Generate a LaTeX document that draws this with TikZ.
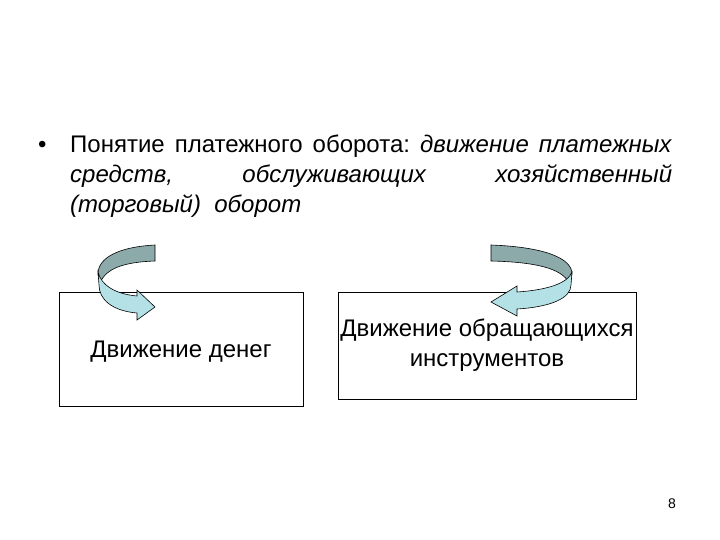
\documentclass[tikz,border=0pt]{standalone}
\usepackage{fontspec}
\setmainfont{Liberation Sans}
\begin{document}
\begin{tikzpicture}[x=1pt,y=-1pt,
  box/.style={draw,line width=0.8pt},
  dk/.style={draw,fill={rgb,255:red,140;green,170;blue,170},line width=0.6pt},
  lt/.style={draw,fill={rgb,255:red,180;green,225;blue,230},line width=0.6pt},
  txt/.style={font=\fontsize{24}{28}\selectfont,inner sep=0pt}]
\useasboundingbox (0,0) rectangle (720,540);
\node[txt,anchor=base west] (b) at (38,153) {•};
\node[txt,anchor=base west] (l1) at (70,153) {\makebox[602pt][s]{Понятие\hfill платежного\hfill оборота:\hfill \textit{движение}\hfill \textit{платежных}}};
\node[txt,anchor=base west] (l2) at (70,183) {\makebox[602pt][s]{\itshape средств,\hfill обслуживающих\hfill хозяйственный}};
\node[txt,anchor=base west] (l3) at (70,212) {\textit{(торговый)\ \ оборот}};
\draw[box] (59,292) rectangle (303,406);
\draw[box] (338,292) rectangle (636,399);
\node[txt,align=center] (t1) at (181,352) {Движение денег};
\node[txt,align=center] (t2) at (487,345) {Движение обращающихся\\[2pt]инструментов};
\node[font=\fontsize{14}{16}\selectfont] (p) at (672,504) {8};
% left arrow
\draw[dk] (155,245) .. controls (118,247) and (98,258) .. (98,274) -- (100,283) .. controls (106,268) and (125,262) .. (155,261) -- cycle;
\draw[lt] (98,272) .. controls (101,285) and (115,294) .. (137,296) -- (137,290) -- (155,307) -- (137,320) -- (137,313) .. controls (113,311) and (99,300) .. (99,285) -- cycle;
% right arrow
\draw[dk] (491,245) .. controls (544,247) and (572,258) .. (572,274) -- (569,283) .. controls (562,268) and (534,262) .. (491,261) -- cycle;
\draw[lt] (572,272) .. controls (568,283) and (548,290) .. (517,292) -- (517,286) -- (491,302) -- (517,316) -- (517,309) .. controls (551,307) and (571,298) .. (571,285) -- cycle;
\end{tikzpicture}
\end{document}
